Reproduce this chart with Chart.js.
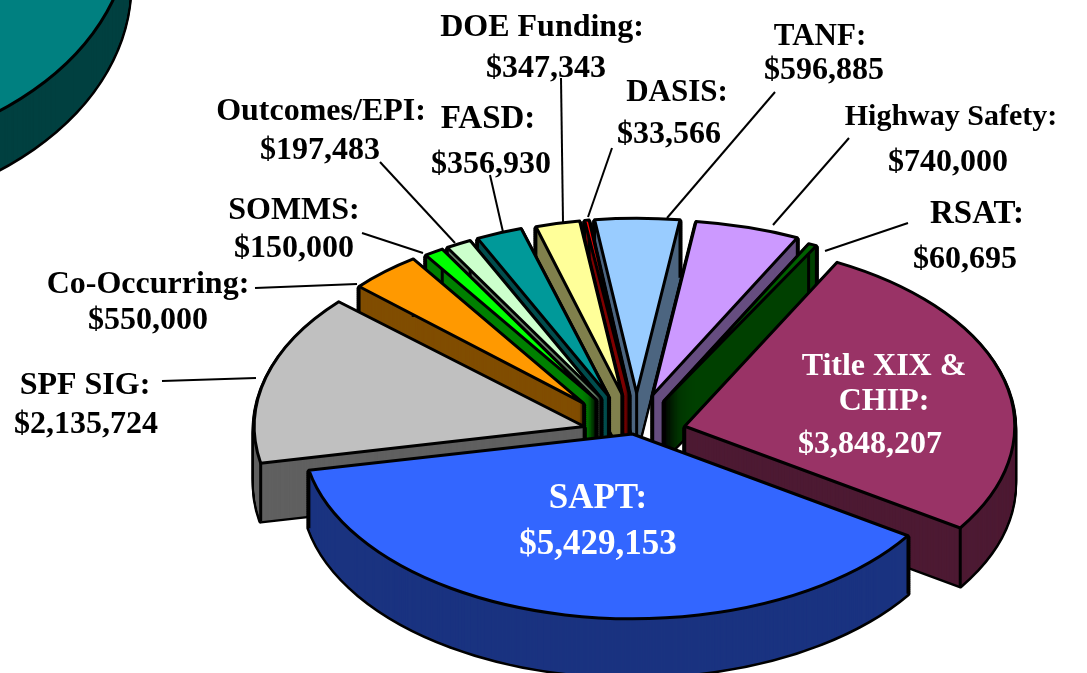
<!DOCTYPE html>
<html><head><meta charset="utf-8">
<script src="https://cdn.jsdelivr.net/npm/chart.js@4"></script>
<style>
html,body{margin:0;padding:0;background:#fff;overflow:hidden;width:1087px;height:673px}
#wrap{position:relative;width:1087px;height:673px;overflow:hidden}
canvas{position:absolute}
#frag{left:-700px;top:-473px}
#main{left:0;top:0}
</style></head><body>
<div id="wrap">
<canvas id="frag" width="1000" height="800"></canvas>
<canvas id="main" width="1087" height="673"></canvas>
</div>
<script>
const categories = ["SAPT","SPF SIG","Co-Occurring","SOMMS","Outcomes/EPI","FASD","DOE Funding","DASIS","TANF","Highway Safety","RSAT","Title XIX & CHIP"];
const amounts = [5429153,2135724,550000,150000,197483,356930,347343,33566,596885,740000,60695,3848207];
const topColors = ["#3366ff","#c0c0c0","#ff9900","#00ff00","#ccffcc","#009999","#ffff99","#ff0000","#99ccff","#cc99ff","#006000","#993366"];
const wallColors = ["#1a3380","#606060","#804d00","#008000","#668066","#004d4d","#80804d","#800000","#4d6680","#664d80","#004000","#4d1a33"];
const explode = [0,50,77,77,77,77,77,77,77,77,70,55];
const tilts = [0.56,0.566,0.53,0.53,0.53,0.53,0.53,0.53,0.53,0.53,0.53,0.56];
const squeeze = [1,1,0.915,0.915,0.915,0.915,0.9,0.95,1,1,1,1];
const nudge = [0,0,2,5,5,4,6,7,4,-2,0,-1];

const fragmentValue = [1];
const fragmentTop = ["#008080"];
const fragmentWall = ["#004040"];

const labels = [
 ["DOE Funding:",542,36,32],["$347,343",546,77,32],
 ["TANF:",820,45,31],["$596,885",824,79,32],
 ["DASIS:",677,101,31],["$33,566",669,143,32],
 ["Highway Safety:",951,125,30],["$740,000",948,171,32],
 ["Outcomes/EPI:",321,120,32],["$197,483",320,159,32],
 ["FASD:",488,128,33],["$356,930",491,173,32],
 ["SOMMS:",294,219,32],["$150,000",294,257,32],
 ["RSAT:",977,223,33],["$60,695",965,268,32],
 ["Co-Occurring:",148,293,32],["$550,000",148,329,32],
 ["SPF SIG:",85,394,32],["$2,135,724",86,433,32]
];
const whiteLabels = [
 ["Title XIX &",884,375,32],["CHIP:",884,410,32],["$3,848,207",870,453,32],
 ["SAPT:",598,508,35],["$5,429,153",598,554,35]
];
const leaders = [
 [380,162,455,243],[490,175,503,232],[561,78,563,222],[612,148,588,217],
 [775,92,667,218],[849,138,773,225],[908,223,825,251],[362,233,423,253],
 [255,288,357,284],[162,381,256,378]
];

const DEPTH = 58;

function pie3d(walls, exp, tl, sq, nx){
  return {
    id:'pie3d',
    beforeDatasetDraw(chart,args){
      const ctx = chart.ctx;
      const arcs = chart.getDatasetMeta(args.index).data.map((a,i)=>({a,i}));
      arcs.sort((p,q)=>Math.sin((p.a.startAngle+p.a.endAngle)/2)-Math.sin((q.a.startAngle+q.a.endAngle)/2));
      for(const {a,i} of arcs){
        const mid=(a.startAngle+a.endAngle)/2;
        const place=(d,fn)=>{
          ctx.save();
          ctx.translate(a.x+nx[i],a.y+d);
          ctx.scale(1,tl[i]);
          ctx.translate(Math.cos(mid)*exp[i],Math.sin(mid)*exp[i]);
          ctx.scale(sq[i],1);
          ctx.translate(-a.x,-a.y);
          fn();
          ctx.restore();
        };
        const shape=()=>{
          ctx.beginPath();
          ctx.moveTo(a.x,a.y);
          ctx.arc(a.x,a.y,a.outerRadius,a.startAngle,a.endAngle);
          ctx.closePath();
        };
        ctx.lineJoin='round';
        ctx.strokeStyle='#000';
        ctx.lineWidth=5;
        for(let d=DEPTH;d>=2;d-=2){ place(d,shape); ctx.stroke(); }
        ctx.fillStyle=walls[i];
        for(let d=DEPTH;d>=1;d--){ place(d,shape); ctx.fill(); }
        ctx.lineWidth=3;
        const pts=[[a.x,a.y],
          [a.x+Math.cos(a.startAngle)*a.outerRadius,a.y+Math.sin(a.startAngle)*a.outerRadius],
          [a.x+Math.cos(a.endAngle)*a.outerRadius,a.y+Math.sin(a.endAngle)*a.outerRadius]];
        if(a.endAngle-a.startAngle<6.2) for(const p of pts){
          ctx.beginPath();
          place(0,()=>ctx.moveTo(p[0],p[1]));
          place(DEPTH,()=>ctx.lineTo(p[0],p[1]));
          ctx.stroke();
        }
        place(0,()=>a.draw(ctx));
        place(0,shape);
        ctx.lineWidth=3;
        ctx.stroke();
      }
      return false;
    }
  };
}

const textPlugin = {
  id:'texts',
  afterDraw(chart){
    const ctx=chart.ctx;
    ctx.save();
    ctx.strokeStyle='#000';
    ctx.lineWidth=2;
    for(const l of leaders){
      ctx.beginPath();ctx.moveTo(l[0],l[1]);ctx.lineTo(l[2],l[3]);ctx.stroke();
    }
    ctx.textAlign='center';
    ctx.textBaseline='alphabetic';
    ctx.fillStyle='#000';
    for(const t of labels){
      ctx.font='bold '+t[3]+'px "Liberation Serif"';
      ctx.fillText(t[0],t[1],t[2]);
    }
    ctx.fillStyle='#fff';
    for(const t of whiteLabels){
      ctx.font='bold '+t[3]+'px "Liberation Serif"';
      ctx.fillText(t[0],t[1],t[2]);
    }
    ctx.restore();
  }
};

const baseOptions = (rotation,padding)=>({
  responsive:false,
  animation:false,
  events:[],
  rotation,
  radius:330,
  layout:{padding},
  plugins:{legend:{display:false},tooltip:{enabled:false}},
  elements:{arc:{borderWidth:0}}
});

new Chart(document.getElementById('frag'),{
  type:'pie',
  data:{labels:["Other"],datasets:[{data:fragmentValue,backgroundColor:fragmentTop,clip:false}]},
  options:baseOptions(0,0),
  plugins:[pie3d(fragmentWall,[0],[0.7],[1],[0])]
});
new Chart(document.getElementById('main'),{
  type:'pie',
  data:{labels:categories,datasets:[{data:amounts,backgroundColor:topColors,clip:false}]},
  options:baseOptions(123.4,{left:178,top:195}),
  plugins:[pie3d(wallColors,explode,tilts,squeeze,nudge),textPlugin]
});
</script>
</body></html>
